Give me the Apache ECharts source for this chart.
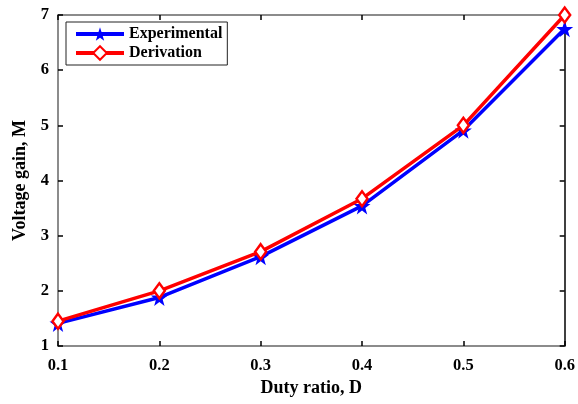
<!DOCTYPE html>
<html>
<head>
<meta charset="utf-8">
<script src="https://cdn.jsdelivr.net/npm/echarts@6/dist/echarts.min.js"></script>
<style>
  html, body { margin: 0; padding: 0; background: #fff; }
  #chart { width: 578px; height: 404px; }
</style>
</head>
<body>
<div id="chart"></div>
<script>
// Duty ratio vs. voltage gain
const dutyRatio = [0.1, 0.2, 0.3, 0.4, 0.5, 0.6];
const experimental = [1.41, 1.88, 2.62, 3.54, 4.91, 6.75];
const derivation = [1.45, 2.0, 2.71, 3.67, 5.0, 7.0];

const FONT = '"Liberation Serif", "DejaVu Serif", serif';
const STAR = 'path://M50,0 L61.8,35.1 L98.1,35.1 L68.8,56.7 L79.4,90.5 L50,69.4 L20.6,90.5 L31.2,56.7 L1.9,35.1 L38.2,35.1 Z';

const pairs = (ys) => dutyRatio.map((x, i) => [x, ys[i]]);

const chart = echarts.init(document.getElementById('chart'));
chart.setOption({
  animation: false,
  grid: { left: 58, right: 11, top: 15, bottom: 58, containLabel: false },
  legend: {
    orient: 'vertical',
    left: 66, top: 22,
    itemWidth: 48, itemHeight: 17, itemGap: 3,
    padding: [4, 5, 4, 8],
    borderColor: '#222', borderWidth: 1,
    backgroundColor: '#fff',
    lineStyle: { width: 4 },
    textStyle: { fontFamily: FONT, fontWeight: 'bold', fontSize: 16, color: '#000' },
    data: ['Experimental', 'Derivation']
  },
  xAxis: [{
    type: 'value', min: 0.1, max: 0.6, interval: 0.1,
    name: 'Duty ratio, D', nameLocation: 'middle', nameGap: 29,
    nameTextStyle: { fontFamily: FONT, fontWeight: 'bold', fontSize: 18, color: '#000' },
    axisLine: { lineStyle: { color: '#666', width: 1.5 } },
    axisTick: { inside: true, length: 5, lineStyle: { color: '#000', width: 1.5 } },
    axisLabel: { fontFamily: FONT, fontWeight: 'bold', fontSize: 16.5, color: '#000', margin: 11,
      formatter: v => v.toFixed(1) },
    splitLine: { show: false }
  }, {
    type: 'value', min: 0.1, max: 0.6, interval: 0.1, position: 'top',
    axisLine: { onZero: false, lineStyle: { color: '#666', width: 1.5 } },
    axisTick: { inside: true, length: 5, lineStyle: { color: '#000', width: 1.5 } },
    axisLabel: { show: false }, splitLine: { show: false }
  }],
  yAxis: [{
    type: 'value', min: 1, max: 7, interval: 1,
    name: 'Voltage gain, M', nameLocation: 'middle', nameGap: 29,
    nameTextStyle: { fontFamily: FONT, fontWeight: 'bold', fontSize: 18, color: '#000' },
    axisLine: { show: true, lineStyle: { color: '#666', width: 1.5 } },
    axisTick: { show: true, inside: true, length: 5, lineStyle: { color: '#000', width: 1.5 } },
    axisLabel: { fontFamily: FONT, fontWeight: 'bold', fontSize: 16.5, color: '#000', margin: 9 },
    splitLine: { show: false }
  }, {
    type: 'value', min: 1, max: 7, interval: 1, position: 'right',
    axisLine: { show: true, onZero: false, lineStyle: { color: '#000', width: 1.5 } },
    axisTick: { show: true, inside: true, length: 5, lineStyle: { color: '#000', width: 1.5 } },
    axisLabel: { show: false }, splitLine: { show: false }
  }],
  series: [{
    name: 'Experimental', type: 'line',
    data: pairs(experimental),
    lineStyle: { color: '#0000ff', width: 3.5 },
    itemStyle: { color: '#0000ff' },
    symbol: STAR, symbolSize: 17, showAllSymbol: true,
    z: 2
  }, {
    name: 'Derivation', type: 'line',
    data: pairs(derivation),
    lineStyle: { color: '#ff0000', width: 3.5 },
    itemStyle: { color: '#ffffff', borderColor: '#ff0000', borderWidth: 2.5 },
    symbol: 'diamond', symbolSize: [11, 15], showAllSymbol: true,
    z: 3
  }]
});
</script>
</body>
</html>
